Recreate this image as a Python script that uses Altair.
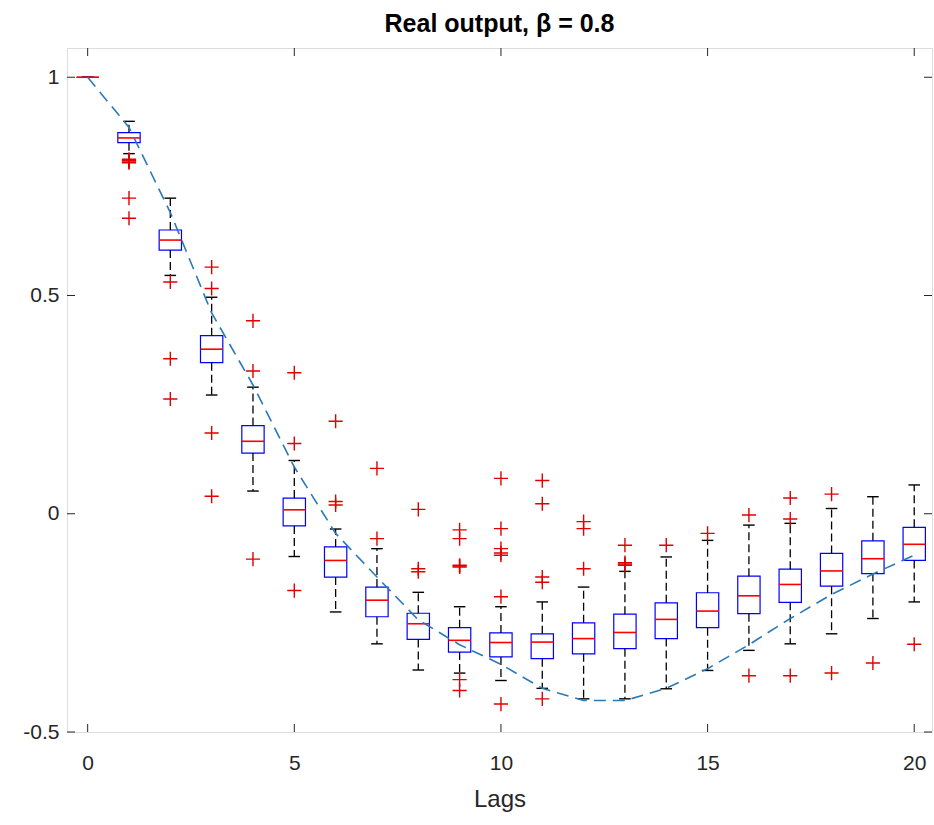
import altair as alt
import pandas as pd

# ---- data ----
lags = list(range(0, 21))
whisk_hi = [1.0, 0.899, 0.723, 0.496, 0.290, 0.122, -0.035, -0.080, -0.180, -0.213, -0.213,
            -0.202, -0.168, -0.132, -0.099, -0.061, -0.026, -0.022, 0.012, 0.039, 0.066]
q3 = [1.0, 0.873, 0.650, 0.408, 0.202, 0.036, -0.076, -0.168, -0.228, -0.261, -0.273,
      -0.275, -0.250, -0.230, -0.204, -0.181, -0.143, -0.127, -0.091, -0.062, -0.031]
median = [1.0, 0.861, 0.627, 0.377, 0.166, 0.009, -0.107, -0.198, -0.252, -0.290, -0.295,
          -0.294, -0.286, -0.272, -0.242, -0.223, -0.188, -0.162, -0.131, -0.103, -0.070]
q1 = [1.0, 0.850, 0.604, 0.346, 0.139, -0.028, -0.145, -0.236, -0.288, -0.317, -0.328,
      -0.332, -0.321, -0.309, -0.286, -0.261, -0.229, -0.203, -0.166, -0.137, -0.107]
whisk_lo = [1.0, 0.825, 0.546, 0.272, 0.052, -0.098, -0.225, -0.298, -0.358, -0.365, -0.382,
            -0.400, -0.424, -0.424, -0.401, -0.359, -0.313, -0.298, -0.275, -0.240, -0.202]

outlier_lag = [1, 1, 1, 1, 1, 1, 1,
               2, 2, 2,
               3, 3, 3, 3,
               4, 4, 4,
               5, 5, 5,
               6, 6, 6,
               7, 7,
               8, 8, 8,
               9, 9, 9, 9, 9, 9, 9,
               10, 10, 10, 10, 10, 10, 10,
               11, 11, 11, 11, 11,
               12, 12, 12,
               13, 13, 13, 13,
               14,
               15,
               16, 16,
               17, 17, 17,
               18, 18,
               19,
               20]
outlier_val = [0.812, 0.809, 0.806, 0.810, 0.804, 0.723, 0.677,
               0.531, 0.355, 0.263,
               0.565, 0.516, 0.185, 0.040,
               0.442, 0.327, -0.104,
               0.323, 0.161, -0.176,
               0.212, 0.028, 0.020,
               0.104, -0.057,
               0.010, -0.126, -0.133,
               -0.037, -0.057, -0.118, -0.120, -0.122, -0.380, -0.405,
               0.081, -0.034, -0.080, -0.090, -0.095, -0.190, -0.436,
               0.076, 0.023, -0.145, -0.157, -0.424,
               -0.018, -0.034, -0.126,
               -0.072, -0.112, -0.115, -0.118,
               -0.072,
               -0.045,
               -0.003, -0.371,
               0.036, -0.012, -0.371,
               0.045, -0.365,
               -0.342,
               -0.299]

theory = [1.0, 0.885, 0.690, 0.460, 0.295, 0.107, -0.045, -0.145, -0.243, -0.300, -0.345,
          -0.400, -0.428, -0.428, -0.400, -0.355, -0.300, -0.240, -0.185, -0.138, -0.095]

x_ticks = [0, 5, 10, 15, 20]
y_ticks = [-0.5, 0, 0.5, 1]

# ---- tables ----
box = pd.DataFrame({"lag": lags, "whi": whisk_hi, "q3": q3, "med": median,
                    "q1": q1, "wlo": whisk_lo})
out = pd.DataFrame({"lag": outlier_lag, "val": outlier_val})
th = pd.DataFrame({"lag": lags, "acf": theory})
xt = pd.DataFrame({"t": x_ticks})
yt = pd.DataFrame({"t": y_ticks})

W, H = 865, 684
FONT = "Liberation Sans"
TXT = "#262626"

xscale = alt.Scale(domain=[-0.5, 20.43], nice=False, zero=False)
yscale = alt.Scale(domain=[-0.5, 1.067], nice=False, zero=False)

xaxis = alt.Axis(values=x_ticks, ticks=False, tickSize=0, domain=False, grid=False,
                 labelFontSize=21, labelColor=TXT, labelFont=FONT, labelPadding=20,
                 title="Lags", titleFontSize=24, titleFontWeight="normal",
                 titleColor=TXT, titleFont=FONT, titlePadding=14)
yaxis = alt.Axis(values=y_ticks, ticks=False, tickSize=0, domain=False, grid=False,
                 labelFontSize=21, labelColor=TXT, labelFont=FONT, labelPadding=8,
                 labelExpr="'' + datum.value", title=None)

base = alt.Chart(box)

X = alt.X("lag:Q", scale=xscale, axis=xaxis)
Y = alt.Y("q1:Q", scale=yscale, axis=yaxis)

boxes = base.transform_calculate(
    xl="datum.lag - 0.27", xr="datum.lag + 0.27"
).mark_rect(fill="white", fillOpacity=0, stroke="#0000FF", strokeWidth=1.2).encode(
    x=alt.X("xl:Q", scale=xscale, axis=xaxis), x2="xr:Q",
    y=Y, y2="q3:Q")

whisk_up = base.mark_rule(color="black", strokeWidth=1.3, strokeDash=[8, 4]).encode(
    x=X, y=alt.Y("q3:Q", scale=yscale, axis=yaxis), y2="whi:Q")
whisk_dn = base.mark_rule(color="black", strokeWidth=1.3, strokeDash=[8, 4]).encode(
    x=X, y=alt.Y("q1:Q", scale=yscale, axis=yaxis), y2="wlo:Q")

caps_hi = base.transform_calculate(
    cl="datum.lag - 0.14", cr="datum.lag + 0.14"
).mark_rule(color="black", strokeWidth=1.4).encode(
    x=alt.X("cl:Q", scale=xscale, axis=xaxis), x2="cr:Q",
    y=alt.Y("whi:Q", scale=yscale, axis=yaxis))
caps_lo = base.transform_calculate(
    cl="datum.lag - 0.14", cr="datum.lag + 0.14"
).mark_rule(color="black", strokeWidth=1.4).encode(
    x=alt.X("cl:Q", scale=xscale, axis=xaxis), x2="cr:Q",
    y=alt.Y("wlo:Q", scale=yscale, axis=yaxis))

meds = base.transform_calculate(
    xl="datum.lag - 0.27", xr="datum.lag + 0.27"
).mark_rule(color="#FF0000", strokeWidth=1.6).encode(
    x=alt.X("xl:Q", scale=xscale, axis=xaxis), x2="xr:Q",
    y=alt.Y("med:Q", scale=yscale, axis=yaxis))

outl = alt.Chart(out).mark_point(
    shape="M-1,0L1,0M0,-1L0,1", size=200, filled=False, color="#E00000",
    strokeWidth=1.4, opacity=1).encode(
    x=alt.X("lag:Q", scale=xscale, axis=xaxis),
    y=alt.Y("val:Q", scale=yscale, axis=yaxis))

line = alt.Chart(th).mark_line(color="#2A7AB8", strokeWidth=1.6, strokeDash=[12, 7]).encode(
    x=alt.X("lag:Q", scale=xscale, axis=xaxis),
    y=alt.Y("acf:Q", scale=yscale, axis=yaxis))

tk = dict(color=TXT, strokeWidth=1)
xt_bot = alt.Chart(xt).mark_rule(**tk).encode(
    x=alt.X("t:Q", scale=xscale, axis=xaxis), y=alt.value(H), y2=alt.value(H - 8))
xt_top = alt.Chart(xt).mark_rule(**tk).encode(
    x=alt.X("t:Q", scale=xscale, axis=xaxis), y=alt.value(0), y2=alt.value(8))
yt_left = alt.Chart(yt).mark_rule(**tk).encode(
    y=alt.Y("t:Q", scale=yscale, axis=yaxis), x=alt.value(0), x2=alt.value(8))
yt_right = alt.Chart(yt).mark_rule(**tk).encode(
    y=alt.Y("t:Q", scale=yscale, axis=yaxis), x=alt.value(W), x2=alt.value(W - 8))

chart = alt.layer(
    boxes, whisk_up, whisk_dn, caps_hi, caps_lo, meds, outl, line,
    xt_bot, xt_top, yt_left, yt_right
).properties(
    width=W, height=H,
    title=alt.TitleParams("Real output, β = 0.8", fontSize=25, fontWeight="bold",
                          font=FONT, color="black", anchor="middle", offset=11),
    autosize=alt.AutoSizeParams(type="none"),
    padding={"left": 67, "top": 48, "right": 2, "bottom": 93},
).configure_view(
    stroke="#262626", strokeWidth=1.2
).configure(background="white")

chart.save("out.html", embed_options={"renderer": "svg", "actions": False})
